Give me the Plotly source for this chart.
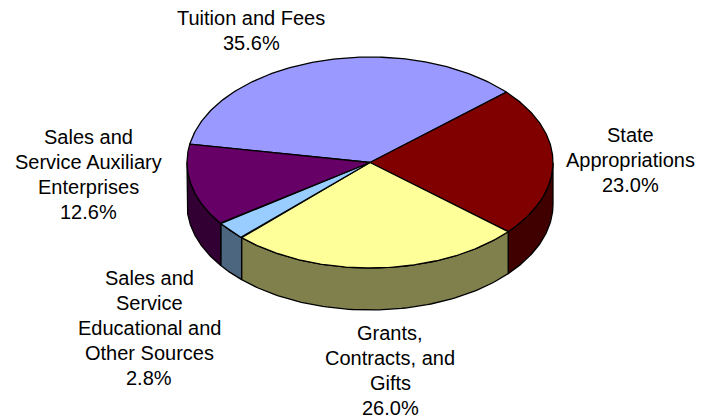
import numpy as np
import plotly.graph_objects as go

# Revenue sources and their shares of total revenue (percent)
categories = [
    "Tuition and Fees",
    "State Appropriations",
    "Grants, Contracts, and Gifts",
    "Sales and Service Educational and Other Sources",
    "Sales and Service Auxiliary Enterprises",
]
label_lines = [
    ["Tuition and Fees"],
    ["State", "Appropriations"],
    ["Grants,", "Contracts, and", "Gifts"],
    ["Sales and", "Service", "Educational and", "Other Sources"],
    ["Sales and", "Service Auxiliary", "Enterprises"],
]
shares = [35.6, 23.0, 26.0, 2.8, 12.6]

# Styling
top_colors = ["#9999FF", "#800000", "#FFFF99", "#99CCFF", "#660066"]
side_colors = ["#4C4C80", "#400000", "#80804C", "#4C6680", "#330033"]
label_pos = [(251, 30), (630, 160), (390, 370), (149, 328), (88, 174)]
LINE_GAP = 25.0
FONT = dict(family="Liberation Sans, Arial, sans-serif", size=20, color="black")

# Tilted-disc geometry (pixel space)
W, H = 705, 419
CX, CY = 370.0, 162.5
RX, RY = 183.0, 105.5
DEPTH = 42.0
START_DEG = -80.0  # first slice begins here, slices run clockwise


def rim(theta_deg, drop=0.0):
    t = np.radians(theta_deg)
    return CX + RX * np.sin(t), CY - RY * np.cos(t) + drop


vals = np.array(shares, dtype=float)
edges = START_DEG + 360.0 * np.concatenate([[0.0], np.cumsum(vals)]) / vals.sum()

fig = go.Figure()
outline = dict(color="black", width=1.3)

# Side walls: only the front half of the rim (90°..270°) is visible
for i in range(len(vals)):
    lo, hi = max(edges[i], 90.0), min(edges[i + 1], 270.0)
    if hi <= lo:
        continue
    th = np.linspace(lo, hi, 80)
    xt, yt = rim(th)
    xb, yb = rim(th[::-1], DEPTH)
    xs = np.concatenate([xt, xb, xt[:1]])
    ys = np.concatenate([yt, yb, yt[:1]])
    fig.add_trace(go.Scatter(x=xs, y=ys, mode="lines", fill="toself",
                             fillcolor=side_colors[i], line=outline,
                             hoverinfo="skip", showlegend=False))

# Top faces of the slices
for i in range(len(vals)):
    th = np.linspace(edges[i], edges[i + 1], 160)
    xa, ya = rim(th)
    xs = np.concatenate([[CX], xa, [CX]])
    ys = np.concatenate([[CY], ya, [CY]])
    fig.add_trace(go.Scatter(x=xs, y=ys, mode="lines", fill="toself",
                             fillcolor=top_colors[i], line=outline,
                             hoverinfo="skip", showlegend=False,
                             name=categories[i]))

# Category labels with percentages, one annotation per text line
for lines, v, (lx, ly) in zip(label_lines, shares, label_pos):
    rows = lines + [f"{v:.1f}%"]
    n = len(rows)
    for k, row in enumerate(rows):
        fig.add_annotation(x=lx, y=ly + (k - (n - 1) / 2) * LINE_GAP, text=row,
                           showarrow=False, xanchor="center", yanchor="middle",
                           font=FONT)

fig.update_layout(
    width=W, height=H,
    margin=dict(l=0, r=0, t=0, b=0),
    paper_bgcolor="white", plot_bgcolor="white",
    xaxis=dict(range=[0, W], visible=False, fixedrange=True),
    yaxis=dict(range=[H, 0], visible=False, fixedrange=True),
)

fig.write_html("out.html")
